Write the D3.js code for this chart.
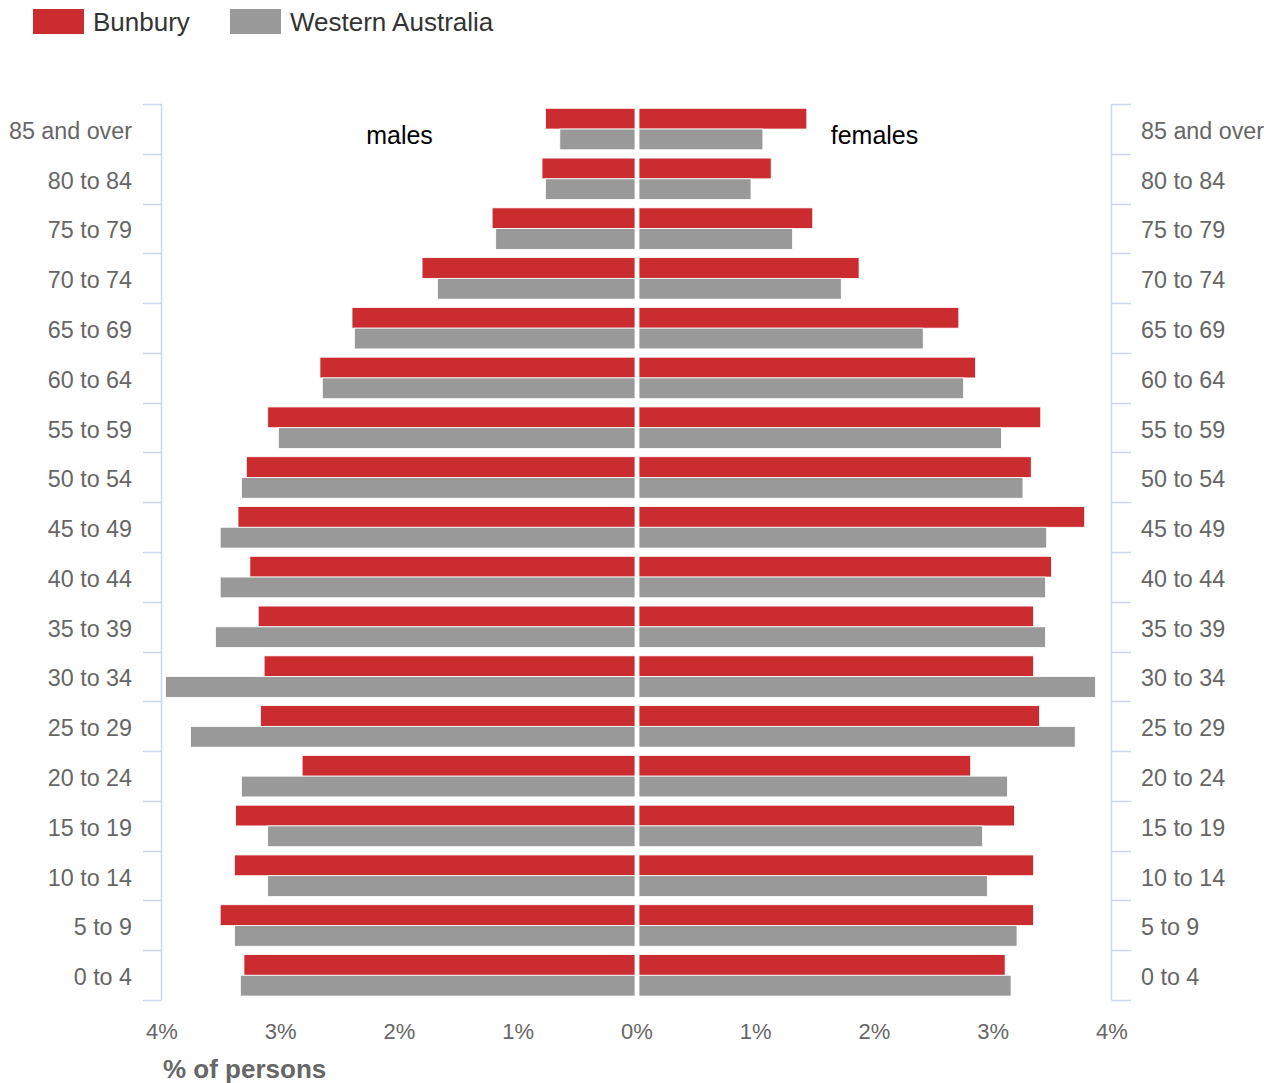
<!DOCTYPE html>
<html>
<head>
<meta charset="utf-8">
<script src="https://cdn.jsdelivr.net/npm/d3@7"></script>
<style>
  html, body { margin: 0; padding: 0; background: #fff; }
  svg { display: block; font-family: "Liberation Sans", Arial, sans-serif; }
</style>
</head>
<body>
<svg id="chart" width="1273" height="1083"></svg>
<script>
const ageGroups = ["85 and over","80 to 84","75 to 79","70 to 74","65 to 69","60 to 64","55 to 59","50 to 54","45 to 49","40 to 44","35 to 39","30 to 34","25 to 29","20 to 24","15 to 19","10 to 14","5 to 9","0 to 4"];
const malesBunbury   = [0.77,0.80,1.22,1.81,2.40,2.67,3.11,3.29,3.36,3.26,3.19,3.14,3.17,2.82,3.38,3.39,3.51,3.31];
const malesWA        = [0.65,0.77,1.19,1.68,2.38,2.65,3.02,3.33,3.51,3.51,3.55,3.97,3.76,3.33,3.11,3.11,3.39,3.34];
const femalesBunbury = [1.43,1.13,1.48,1.87,2.71,2.85,3.40,3.32,3.77,3.49,3.34,3.34,3.39,2.81,3.18,3.34,3.34,3.10];
const femalesWA      = [1.06,0.96,1.31,1.72,2.41,2.75,3.07,3.25,3.45,3.44,3.44,3.86,3.69,3.12,2.91,2.95,3.20,3.15];
const seriesNames = ["Bunbury","Western Australia"];
const seriesColors = ["#cb2c30","#999999"];
const xTicks = [-4,-3,-2,-1,0,1,2,3,4];
const sideLabels = ["males","females"];
const axisTitle = "% of persons";

const svg = d3.select("#chart");
const x = d3.scaleLinear().domain([-4,4]).range([162,1112]);
const y = d3.scaleBand().domain(ageGroups).range([104,1000]).padding(0);
const x0 = x(0);
const gap = 2;
const barH = 20.75;
const groupOff = 4.3;

// bars
const rows = ageGroups.map((g,i)=>({g, mb:malesBunbury[i], mw:malesWA[i], fb:femalesBunbury[i], fw:femalesWA[i]}));
const barsG = svg.append("g");
rows.forEach(r=>{
  const top = y(r.g) + groupOff;
  const defs = [
    {v:-r.mb, c:seriesColors[0], yy:top},
    {v:-r.mw, c:seriesColors[1], yy:top+barH},
    {v: r.fb, c:seriesColors[0], yy:top},
    {v: r.fw, c:seriesColors[1], yy:top+barH}
  ];
  defs.forEach(d=>{
    const xa = d.v<0 ? x(d.v) : x0+gap;
    const xb = d.v<0 ? x0-gap : x(d.v);
    barsG.append("rect")
      .attr("x", xa).attr("y", d.yy)
      .attr("width", xb-xa).attr("height", barH)
      .attr("fill", d.c).attr("stroke","#fff").attr("stroke-width",0.8);
  });
});

// y axes
const axisColor = "#ccd6eb";
const boundaries = ageGroups.map(g=>y(g)).concat([y.range()[1]]);
function drawSide(side){
  const ax = side==="left" ? 161.5 : 1111.5;
  const g = svg.append("g");
  g.append("line").attr("x1",ax).attr("x2",ax).attr("y1",104).attr("y2",1000)
    .attr("stroke",axisColor).attr("stroke-width",1.5);
  boundaries.forEach(b=>{
    g.append("line")
      .attr("x1", side==="left"? 143 : ax).attr("x2", side==="left"? ax : 1131)
      .attr("y1", Math.round(b)+0.5).attr("y2", Math.round(b)+0.5)
      .attr("stroke",axisColor).attr("stroke-width",1.5);
  });
  ageGroups.forEach(a=>{
    g.append("text")
      .attr("x", side==="left"? 132 : 1141)
      .attr("y", y(a)+y.bandwidth()/2+10)
      .attr("text-anchor", side==="left"?"end":"start")
      .attr("font-size", 23.3).attr("fill","#666666")
      .text(a);
  });
}
drawSide("left");
drawSide("right");

// x axis labels
const xg = svg.append("g");
xTicks.forEach(t=>{
  xg.append("text").attr("x", x(t)).attr("y", 1039)
    .attr("text-anchor","middle").attr("font-size",22).attr("fill","#666666")
    .text(Math.abs(t)+"%");
});
svg.append("text").attr("x",163).attr("y",1078).attr("font-size",26)
  .attr("font-weight","bold").attr("fill","#666666").text(axisTitle);

// side labels
svg.append("text").attr("x", x(-2)).attr("y",144).attr("text-anchor","middle")
  .attr("font-size",25).attr("fill","#000").text(sideLabels[0]);
svg.append("text").attr("x", x(2)).attr("y",144).attr("text-anchor","middle")
  .attr("font-size",25).attr("fill","#000").text(sideLabels[1]);

// legend
const legX = [33,230];
seriesNames.forEach((n,i)=>{
  svg.append("rect").attr("x",legX[i]).attr("y",9).attr("width",51).attr("height",25).attr("fill",seriesColors[i]);
  svg.append("text").attr("x",legX[i]+60).attr("y",30.5).attr("font-size",26).attr("fill","#333333").text(n);
});
</script>
</body>
</html>
